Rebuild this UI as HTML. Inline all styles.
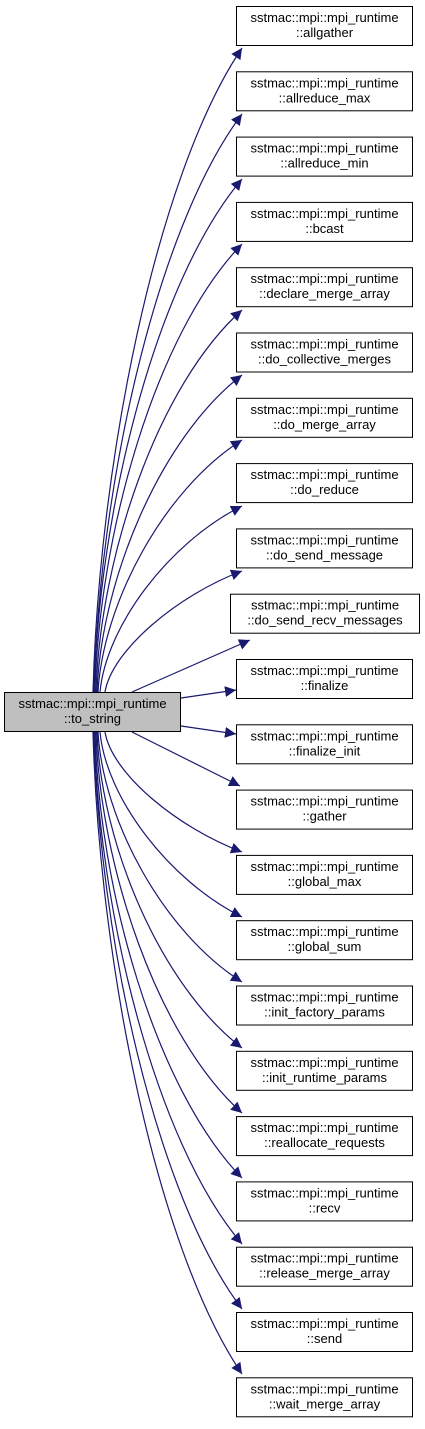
<!DOCTYPE html>
<html><head><meta charset="utf-8"><style>
body{margin:0;background:#fff;width:425px;height:1424px;overflow:hidden}
svg text{font-family:"Liberation Sans",sans-serif;font-size:13px;fill:#000}
</style></head><body>
<svg width="425" height="1424" viewBox="0 0 425 1424" xmlns="http://www.w3.org/2000/svg">
<defs><marker id="a" viewBox="0 0 10 10" refX="10" refY="5" markerWidth="11" markerHeight="11" markerUnits="userSpaceOnUse" orient="auto"><path d="M0,0 L10,5 L0,10 z" fill="#191970"/></marker></defs>
<g fill="none" stroke="#191970" stroke-width="1.2" marker-end="url(#a)">
<path d="M93 692 C99 467,155 177,242 48"/>
<path d="M94 692 C99 490,155 230,242 114"/>
<path d="M94 692 C99 512,155 282,242 179"/>
<path d="M95 692 C99 535,155 334,242 244"/>
<path d="M96 692 C100 558,157 386,242 310"/>
<path d="M97 692 C101 581,160 438,242 375"/>
<path d="M98 692 C103 604,163 490,242 440"/>
<path d="M100 692 C106 627,168 543,242 506"/>
<path d="M105 692 C112 650,178 595,242 571"/>
<path d="M132 692 L250 640"/>
<path d="M181 698 L236 690"/>
<path d="M181 726 L236 734"/>
<path d="M132 732 L240 786"/>
<path d="M105 732 C112 774,178 828,242 852"/>
<path d="M100 732 C106 797,168 880,242 917"/>
<path d="M98 732 C103 820,163 932,242 982"/>
<path d="M97 732 C101 843,160 985,242 1048"/>
<path d="M96 732 C100 865,157 1037,242 1113"/>
<path d="M95 732 C99 888,155 1089,242 1178"/>
<path d="M94 732 C99 911,155 1142,242 1244"/>
<path d="M94 732 C99 934,155 1194,242 1309"/>
<path d="M93 732 C99 957,155 1246,242 1374"/>
</g>
<rect x="4.5" y="692.5" width="176" height="39" fill="#bfbfbf" stroke="#000"/>
<text x="92.5" y="708" text-anchor="middle">sstmac::mpi::mpi_runtime</text>
<text x="92.5" y="723" text-anchor="middle">::to_string</text>
<g fill="#fff" stroke="#000">
<rect x="236.5" y="6.5" width="176" height="39"/>
<rect x="236.5" y="71.8" width="176" height="39"/>
<rect x="236.5" y="137.1" width="176" height="39"/>
<rect x="236.5" y="202.4" width="176" height="39"/>
<rect x="236.5" y="267.7" width="176" height="39"/>
<rect x="236.5" y="333" width="176" height="39"/>
<rect x="236.5" y="398.3" width="176" height="39"/>
<rect x="236.5" y="463.6" width="176" height="39"/>
<rect x="236.5" y="528.9" width="176" height="39"/>
<rect x="230.5" y="594.2" width="189" height="39"/>
<rect x="236.5" y="659.5" width="176" height="39"/>
<rect x="236.5" y="724.8" width="176" height="39"/>
<rect x="236.5" y="790.1" width="176" height="39"/>
<rect x="236.5" y="855.4" width="176" height="39"/>
<rect x="236.5" y="920.7" width="176" height="39"/>
<rect x="236.5" y="986" width="176" height="39"/>
<rect x="236.5" y="1051.3" width="176" height="39"/>
<rect x="236.5" y="1116.6" width="176" height="39"/>
<rect x="236.5" y="1181.9" width="176" height="39"/>
<rect x="236.5" y="1247.2" width="176" height="39"/>
<rect x="236.5" y="1312.5" width="176" height="39"/>
<rect x="236.5" y="1377.8" width="176" height="39"/>
</g>
<g text-anchor="middle">
<text x="324.5" y="22">sstmac::mpi::mpi_runtime</text><text x="324.5" y="37">::allgather</text>
<text x="324.5" y="87.3">sstmac::mpi::mpi_runtime</text><text x="324.5" y="102.3">::allreduce_max</text>
<text x="324.5" y="152.6">sstmac::mpi::mpi_runtime</text><text x="324.5" y="167.6">::allreduce_min</text>
<text x="324.5" y="217.9">sstmac::mpi::mpi_runtime</text><text x="324.5" y="232.9">::bcast</text>
<text x="324.5" y="283.2">sstmac::mpi::mpi_runtime</text><text x="324.5" y="298.2">::declare_merge_array</text>
<text x="324.5" y="348.5">sstmac::mpi::mpi_runtime</text><text x="324.5" y="363.5">::do_collective_merges</text>
<text x="324.5" y="413.8">sstmac::mpi::mpi_runtime</text><text x="324.5" y="428.8">::do_merge_array</text>
<text x="324.5" y="479.1">sstmac::mpi::mpi_runtime</text><text x="324.5" y="494.1">::do_reduce</text>
<text x="324.5" y="544.4">sstmac::mpi::mpi_runtime</text><text x="324.5" y="559.4">::do_send_message</text>
<text x="325" y="609.7">sstmac::mpi::mpi_runtime</text><text x="325" y="624.7">::do_send_recv_messages</text>
<text x="324.5" y="675">sstmac::mpi::mpi_runtime</text><text x="324.5" y="690">::finalize</text>
<text x="324.5" y="740.3">sstmac::mpi::mpi_runtime</text><text x="324.5" y="755.3">::finalize_init</text>
<text x="324.5" y="805.6">sstmac::mpi::mpi_runtime</text><text x="324.5" y="820.6">::gather</text>
<text x="324.5" y="870.9">sstmac::mpi::mpi_runtime</text><text x="324.5" y="885.9">::global_max</text>
<text x="324.5" y="936.2">sstmac::mpi::mpi_runtime</text><text x="324.5" y="951.2">::global_sum</text>
<text x="324.5" y="1001.5">sstmac::mpi::mpi_runtime</text><text x="324.5" y="1016.5">::init_factory_params</text>
<text x="324.5" y="1066.8">sstmac::mpi::mpi_runtime</text><text x="324.5" y="1081.8">::init_runtime_params</text>
<text x="324.5" y="1132.1">sstmac::mpi::mpi_runtime</text><text x="324.5" y="1147.1">::reallocate_requests</text>
<text x="324.5" y="1197.4">sstmac::mpi::mpi_runtime</text><text x="324.5" y="1212.4">::recv</text>
<text x="324.5" y="1262.7">sstmac::mpi::mpi_runtime</text><text x="324.5" y="1277.7">::release_merge_array</text>
<text x="324.5" y="1328">sstmac::mpi::mpi_runtime</text><text x="324.5" y="1343">::send</text>
<text x="324.5" y="1393.3">sstmac::mpi::mpi_runtime</text><text x="324.5" y="1408.3">::wait_merge_array</text>
</g>
</svg>
</body></html>
